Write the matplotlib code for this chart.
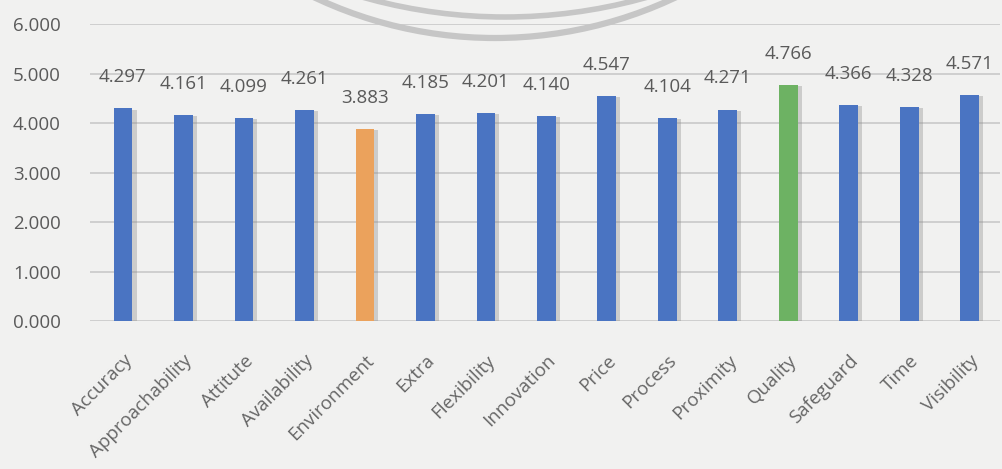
import matplotlib
matplotlib.use("Agg")
import matplotlib.pyplot as plt
import matplotlib.patheffects as pe
from matplotlib.patches import Arc

categories = ["Accuracy", "Approachability", "Attitute", "Availability", "Environment",
              "Extra", "Flexibility", "Innovation", "Price", "Process", "Proximity",
              "Quality", "Safeguard", "Time", "Visibility"]
scores = [4.297, 4.161, 4.099, 4.261, 3.883, 4.185, 4.201, 4.140, 4.547, 4.104,
          4.271, 4.766, 4.366, 4.328, 4.571]
y_ticks = [0, 1, 2, 3, 4, 5, 6]

lowest = scores.index(min(scores))
highest = scores.index(max(scores))
colors = ["#4a74c2"] * len(scores)
colors[lowest] = "#eba25c"
colors[highest] = "#6db263"

plt.rcParams["font.family"] = ["Open Sans", "DejaVu Sans"]
text_col = "#5a5a5a"

fig = plt.figure(figsize=(10.02, 4.69), dpi=100, facecolor="#f1f1f0")
ax = fig.add_axes([90 / 1002, 1 - 321 / 469, 910 / 1002, 297 / 469])
ax.set_facecolor("none")

x = list(range(len(categories)))
bars = ax.bar(x, scores, width=0.31, color=colors, zorder=3)
for b in bars:
    b.set_path_effects([pe.SimplePatchShadow(offset=(3, -1), shadow_rgbFace="#888888", alpha=0.35),
                        pe.Normal()])

for xi, v in zip(x, scores):
    ax.annotate(f"{v:.3f}", (xi, v), xytext=(0, 16), textcoords="offset points",
                ha="center", va="bottom", fontsize=13.5, color=text_col)

ax.set_xlim(-0.545, 14.5)
ax.set_ylim(0, 6)
ax.set_yticks(y_ticks)
ax.set_yticklabels([f"{t:.3f}" for t in y_ticks], fontsize=13.5, color=text_col)
ax.grid(axis="y", color="#c9c9c9", lw=1.2, zorder=0)
ax.tick_params(axis="both", length=0)
ax.tick_params(axis="y", pad=21)
ax.set_xticks(x)
ax.set_xticklabels(categories, rotation=45, ha="right", rotation_mode="anchor",
                   fontsize=13.5, color="#666666")
ax.tick_params(axis="x", pad=22)
for s in ax.spines.values():
    s.set_visible(False)

# faint watermark arcs at the top
for cx, cy, r, lw in [(495, 469 + 384, 422, 4.5), (505, 469 + 504, 521, 4)]:
    fig.patches.append(Arc((cx, cy), 2 * r, 2 * r, theta1=240, theta2=300,
                           transform=None, color="#c6c6c6", lw=lw, zorder=0))

fig.savefig("out.png", dpi=100, facecolor=fig.get_facecolor())
